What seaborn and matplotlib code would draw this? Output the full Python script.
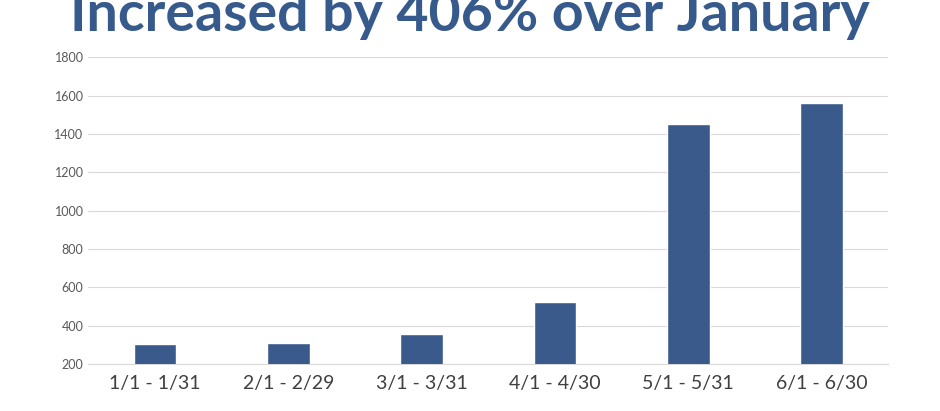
import matplotlib
matplotlib.use("Agg")
import matplotlib.pyplot as plt
import seaborn as sns
import pandas as pd

periods = ['1/1 - 1/31', '2/1 - 2/29', '3/1 - 3/31', '4/1 - 4/30', '5/1 - 5/31', '6/1 - 6/30']
counts = [305, 310, 355, 525, 1450, 1560]
title = 'Increased by 406% over January'

sns.set_style('white')
plt.rcParams['font.family'] = ['Lato', 'DejaVu Sans']

df = pd.DataFrame({'period': periods, 'count': counts})

fig = plt.figure(figsize=(9.4, 4.11), dpi=100)
ax = fig.add_axes([0.094, 0.114, 0.851, 0.747])
sns.barplot(data=df, x='period', y='count', color='#3A5A8C', width=0.32,
            saturation=1, ax=ax, zorder=3)

ax.set_ylim(200, 1800)
ax.set_yticks(range(200, 1801, 200))
ax.yaxis.grid(True, color='#d9d9d9', linewidth=0.8, zorder=0)
ax.set_xlabel('')
ax.set_ylabel('')
for s in ['top', 'right', 'left']:
    ax.spines[s].set_visible(False)
ax.spines['bottom'].set_color('#d9d9d9')
ax.tick_params(axis='y', labelsize=9, colors='#595959', length=0)
ax.tick_params(axis='x', labelsize=14, colors='#404040', length=0, pad=8)

fig.text(0.5, 0.925, title, ha='center', va='baseline', fontsize=40,
         fontweight='bold', color='#375A8C')

fig.savefig('out.png', dpi=100)
